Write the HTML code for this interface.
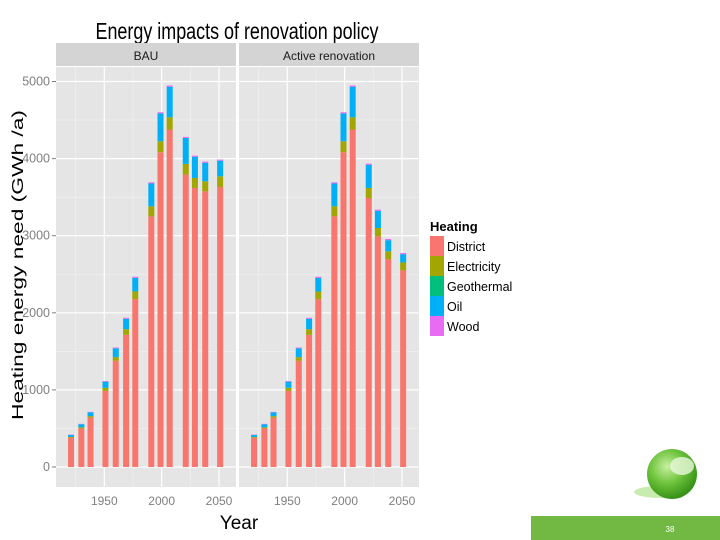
<!DOCTYPE html>
<html><head><meta charset="utf-8"><style>
body{margin:0;background:#fff;width:720px;height:540px;overflow:hidden;position:relative;font-family:"Liberation Sans",sans-serif}
svg{position:absolute;left:0;top:0}
</style></head><body>
<svg id="chart" width="720" height="540">
<text x="237" y="39" font-size="23" text-anchor="middle" fill="#000" textLength="283" lengthAdjust="spacingAndGlyphs">Energy impacts of renovation policy</text>
<g id="panels"></g>
<text x="239" y="529" font-size="19" text-anchor="middle">Year</text>
<text transform="translate(23,265) rotate(-90)" font-size="16" text-anchor="middle" textLength="310" lengthAdjust="spacingAndGlyphs">Heating energy need (GWh /a)</text>
<g>
<text x="430" y="231" font-size="13" font-weight="bold">Heating</text>
<g id="legend"></g>
</g>
<rect x="531" y="516" width="189" height="24" fill="#72b944"/>
<text x="670" y="532" font-size="8" fill="#fff" text-anchor="middle">38</text>
<defs><radialGradient id="gb" cx="0.4" cy="0.35" r="0.7"><stop offset="0" stop-color="#c8f0a0"/><stop offset="0.5" stop-color="#6cc23a"/><stop offset="1" stop-color="#2f8a12"/></radialGradient></defs>
<ellipse cx="660" cy="492" rx="26" ry="6" fill="#c8ebb0"/>
<circle cx="672" cy="474" r="25" fill="url(#gb)"/>
<ellipse cx="682" cy="466" rx="12" ry="9" fill="#eaf8dc" opacity="0.8"/>
</svg>
<script>
const years=[1921,1930,1938,1951,1960,1969,1977,1991,1999,2007,2021,2029,2038,2051];
const panelNames=["BAU","Active renovation"];
const districtBAU=[380,500,640,987,1377,1714,2177,3251,4082,4377,3792,3619,3575,3632];
const elecBAU=[10,15,20,40,48,74,100,130,143,159,139,130,130,138];
const geoBAU=[0,0,0,0,0,0,0,0,0,0,0,0,0,0];
const oilBAU=[25,40,50,80,115,135,176,296,361,397,336,275,241,202];
const woodBAU=[5,5,5,8,10,12,15,15,15,15,15,15,15,15];
const districtAct=[380,500,640,987,1377,1714,2177,3251,4082,4377,3489,2991,2697,2550];
const elecAct=[10,15,20,40,48,74,100,130,143,159,130,109,100,103];
const geoAct=[0,0,0,0,0,0,0,0,0,0,0,0,0,0];
const oilAct=[25,40,50,80,115,135,176,296,361,397,301,223,145,107];
const woodAct=[5,5,5,8,10,12,15,15,15,15,15,15,15,15];
const yTicks=[0,1000,2000,3000,4000,5000];
const xTicks=[1950,2000,2050];
const colors=["#f8766d","#a3a500","#00bf7d","#00b0f6","#e76bf3"];
const catNames=["District","Electricity","Geothermal","Oil","Wood"];
const NS="http://www.w3.org/2000/svg";
function mk(t,a,p){const e=document.createElementNS(NS,t);for(const k in a)e.setAttribute(k,a[k]);p.appendChild(e);return e;}
const top0=67,bot=487;
function yS(v){return 467-v*0.0771;}
const panelX=[56,239],panelW=180;
function xS(p,yr){return panelX[p]+48.3+(yr-1950)*1.147;}
const series=[[districtBAU,elecBAU,geoBAU,oilBAU,woodBAU],[districtAct,elecAct,geoAct,oilAct,woodAct]];
const G=document.getElementById('panels');
for(let p=0;p<2;p++){
 const s=mk('rect',{x:panelX[p],y:43,width:panelW,height:23,fill:'#d4d4d4'},G);
 
 
 const st=mk('text',{x:panelX[p]+panelW/2,y:60,'font-size':12,'text-anchor':'middle',fill:'#1a1a1a'},G);
 st.textContent=panelNames[p];
 
 
 const bg=mk('rect',{x:panelX[p],y:top0,width:panelW,height:bot-top0,fill:'#e5e5e5'},G);
 
 
 for(let i=0;i<yTicks.length-1;i++){const m=(yTicks[i]+yTicks[i+1])/2;const g=mk('line',{x1:panelX[p],x2:panelX[p]+panelW,y1:yS(m),y2:yS(m),stroke:'#f2f2f2','stroke-width':0.6},G);}
 for(const yr of [1925,1975,2025]){const g=mk('line',{x1:xS(p,yr),x2:xS(p,yr),y1:top0,y2:bot,stroke:'#f2f2f2','stroke-width':0.6},G);}
 for(const v of yTicks){const g=mk('line',{x1:panelX[p],x2:panelX[p]+panelW,y1:yS(v),y2:yS(v),stroke:'#fff','stroke-width':1.2},G);}
 for(const yr of xTicks){const g=mk('line',{x1:xS(p,yr),x2:xS(p,yr),y1:top0,y2:bot,stroke:'#fff','stroke-width':1.2},G);
  const t=mk('text',{x:xS(p,yr),y:505,'font-size':12,'text-anchor':'middle',fill:'#7f7f7f'},G);t.textContent=yr;}
 for(let i=0;i<years.length;i++){
  let acc=0;
  for(let c=0;c<5;c++){const v=series[p][c][i];if(!v)continue;
   const r=mk('rect',{x:xS(p,years[i])-3,y:yS(acc+v),width:6,height:yS(acc)-yS(acc+v),fill:colors[c]},G);
   
   
   acc+=v;}
 }
}
for(const v of yTicks){
 const t=mk('text',{x:50,y:yS(v)+4,'font-size':12.5,'text-anchor':'end',fill:'#7f7f7f'},G);t.textContent=v;
 
 
 const l=mk('line',{x1:52,x2:56,y1:yS(v),y2:yS(v),stroke:'#7f7f7f'},G);
 
 
}
const L=document.getElementById('legend');
for(let c=0;c<5;c++){
 const r=mk('rect',{x:430,y:236+c*20,width:14,height:20,fill:colors[c]},L);
 
 
 const t=mk('text',{x:447,y:251+c*20,'font-size':12.5,fill:'#000'},L);t.textContent=catNames[c];
 
 
}
</script>
</body></html>
